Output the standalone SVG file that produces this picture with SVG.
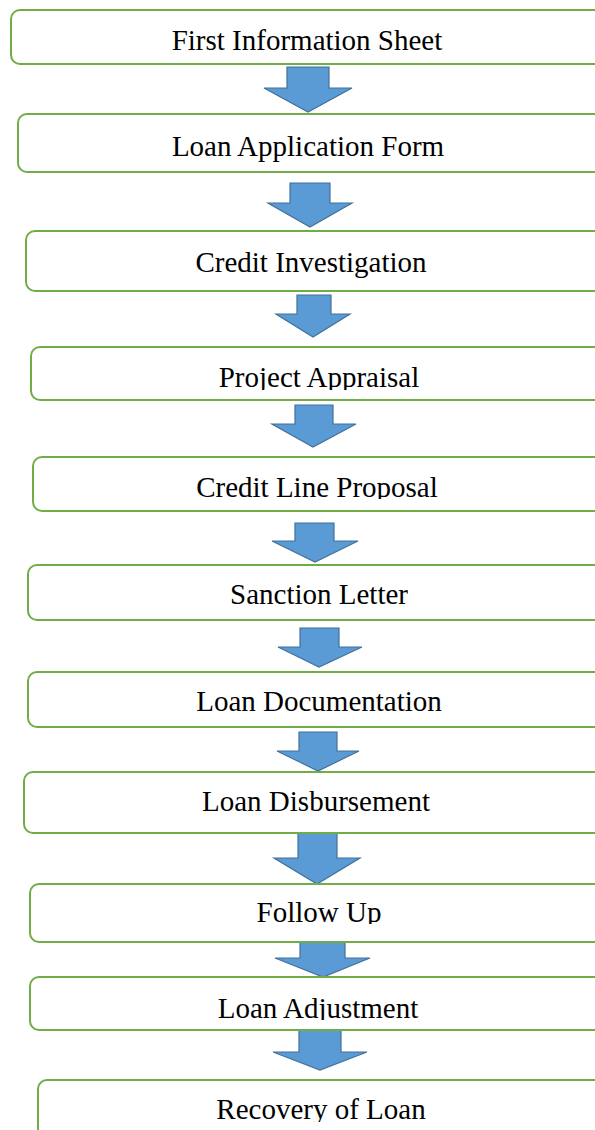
<svg xmlns="http://www.w3.org/2000/svg" width="595" height="1130" viewBox="0 0 595 1130">
<style>
.box{fill:#ffffff;stroke:#70AD47;stroke-width:2}
.lbl{font-family:"Liberation Serif","Times New Roman",serif;font-size:29px;fill:#000000;text-anchor:middle}
.arr{fill:#5B9BD5;stroke:#41719C;stroke-width:1.2;stroke-linejoin:miter}
</style>
<defs>
<clipPath id="c4"><rect x="0" y="340" width="595" height="50"/></clipPath>
<clipPath id="c5"><rect x="0" y="450" width="595" height="49"/></clipPath>
<clipPath id="c9"><rect x="0" y="880" width="595" height="44"/></clipPath>
<clipPath id="c10"><rect x="0" y="975" width="595" height="45"/></clipPath>
<clipPath id="c11"><rect x="0" y="1075" width="595" height="47"/></clipPath>
</defs>
<rect width="595" height="1130" fill="#ffffff"/>
<g id="connectors">
<path class="arr" d="M287,67 H329 V88 H352 L308,112 L264,88 H287 Z"/>
<path class="arr" d="M290,183 H330 V203 H352 L310,227 L268,203 H290 Z"/>
<path class="arr" d="M297,295 H331 V314 H350 L313,337 L276,314 H297 Z"/>
<path class="arr" d="M295,405 H333 V424 H356 L313,447 L272,424 H295 Z"/>
<path class="arr" d="M295,523 H334 V541 H358 L315,562 L272,541 H295 Z"/>
<path class="arr" d="M300,628 H339 V647 H362 L319,667 L278,647 H300 Z"/>
<path class="arr" d="M299,732 H337 V751 H359 L318,771 L277,751 H299 Z"/>
<path class="arr" d="M298,833 H337 V858 H360 L317,884 L274,858 H298 Z"/>
<path class="arr" d="M300,938 H345 V958 H370 L323,977 L275,958 H300 Z"/>
<path class="arr" d="M299,1030 H341 V1052 H367 L320,1070 L273,1052 H299 Z"/>
</g>
<g id="n1"><rect class="box" x="11" y="10" width="600" height="54" rx="9"/><text class="lbl" x="307" y="50">First Information Sheet</text></g>
<g id="n2"><rect class="box" x="18" y="114" width="600" height="58" rx="9"/><text class="lbl" x="308" y="156">Loan Application Form</text></g>
<g id="n3"><rect class="box" x="26" y="231" width="600" height="60" rx="9"/><text class="lbl" x="311" y="272">Credit Investigation</text></g>
<g id="n4"><rect class="box" x="31" y="347" width="600" height="53" rx="9"/><text class="lbl" x="319" y="387" clip-path="url(#c4)">Project Appraisal</text></g>
<g id="n5"><rect class="box" x="33" y="457" width="600" height="54" rx="9"/><text class="lbl" x="317" y="497" clip-path="url(#c5)">Credit Line Proposal</text></g>
<g id="n6"><rect class="box" x="28" y="565" width="600" height="55" rx="9"/><text class="lbl" x="319" y="604">Sanction Letter</text></g>
<g id="n7"><rect class="box" x="28" y="672" width="600" height="55" rx="9"/><text class="lbl" x="319" y="711">Loan Documentation</text></g>
<g id="n8"><rect class="box" x="24" y="772" width="600" height="61" rx="9"/><text class="lbl" x="316" y="811">Loan Disbursement</text></g>
<g id="n9"><rect class="box" x="30" y="884" width="600" height="58" rx="9"/><text class="lbl" x="319" y="922" clip-path="url(#c9)">Follow Up</text></g>
<g id="n10"><rect class="box" x="30" y="977" width="600" height="53" rx="9"/><text class="lbl" x="318" y="1018" clip-path="url(#c10)">Loan Adjustment</text></g>
<g id="n11"><rect class="box" x="38" y="1080" width="600" height="80" rx="9"/><text class="lbl" x="321" y="1119" clip-path="url(#c11)">Recovery of Loan</text></g>
</svg>
